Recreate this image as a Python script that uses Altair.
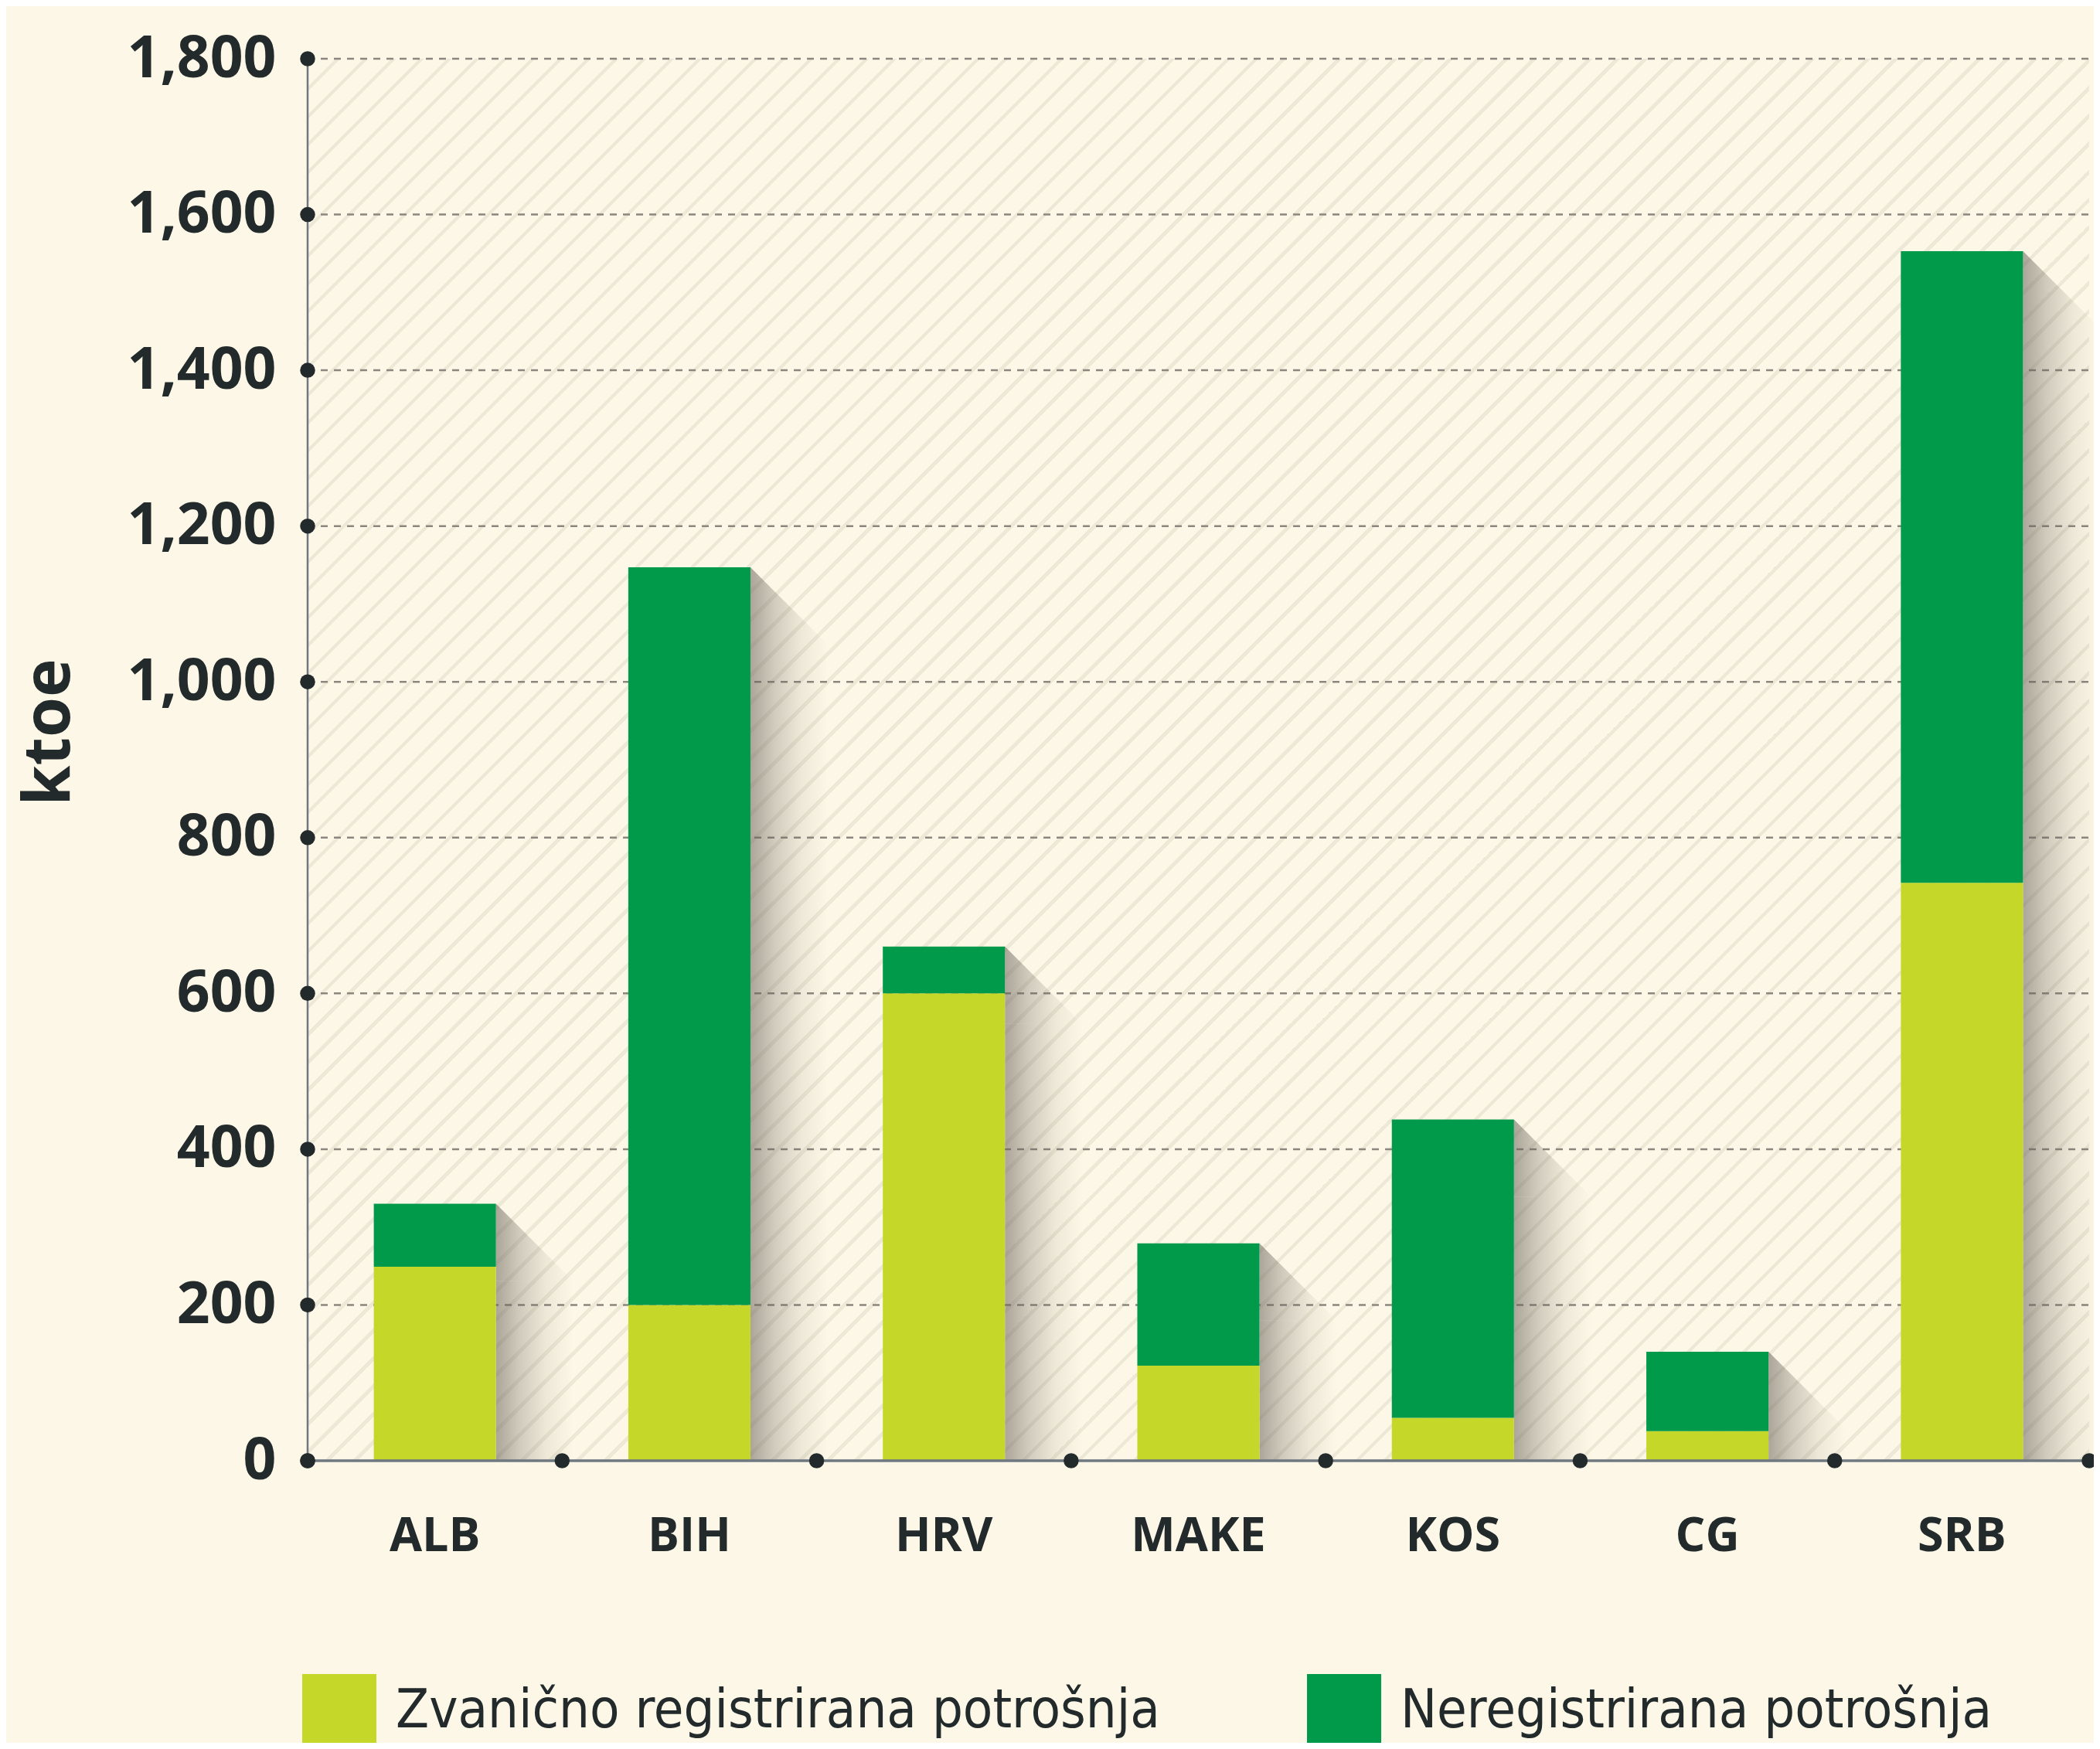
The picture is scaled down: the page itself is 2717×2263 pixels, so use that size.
import altair as alt
import pandas as pd

# ---------------- data ----------------
countries = ["ALB", "BIH", "HRV", "MAKE", "KOS", "CG", "SRB"]
registered = [249, 200, 600, 122, 55, 38, 742]
unregistered = [81, 947, 60, 157, 383, 102, 811]
series_names = ["Zvanično registrirana potrošnja", "Neregistrirana potrošnja"]
series_colors = ["#c5d82a", "#009a4a"]
y_ticks = [0, 200, 400, 600, 800, 1000, 1200, 1400, 1600, 1800]
y_title = "ktoe"

# ---------------- style ----------------
W, H = 2305, 1814
BG = "#fdf7e7"
HATCH = "#eee8d6"
INK = "#232a2b"
AXIS_GRAY = "#6f7880"
GRID_GRAY = "#8a877f"
FONT = "Open Sans"
LEGEND_FONT = "Liberation Sans Narrow, DejaVu Sans Condensed, Open Sans"

rows = []
for i, c in enumerate(countries):
    rows.append({"country": c, "series": series_names[0], "value": registered[i], "ord": 0})
    rows.append({"country": c, "series": series_names[1], "value": unregistered[i], "ord": 1})
bars_df = pd.DataFrame(rows)
tot_df = pd.DataFrame({
    "country": countries,
    "total": [r + u for r, u in zip(registered, unregistered)],
    "zero": [0] * len(countries),
})

# diagonal hatch as a striped linear gradient (objectBoundingBox units)
r = H / W
s = (1 + r) / (1 + r * r)
spacing = 36.0
dt = spacing / (W + H)
lw = 0.17 * dt
stops = []
k = 0
while k * dt < 1:
    a = k * dt
    b = (k + 1) * dt
    for off, col in [(a, HATCH), (a + lw, HATCH), (a + lw, BG), (b, BG)]:
        stops.append({"offset": round(min(off, 1.0), 6), "color": col})
    k += 1
hatch_fill = {"gradient": "linear", "x1": 0, "y1": 0, "x2": s, "y2": s * r, "stops": stops}

SHC = "105,99,90"
shadow_grad = {"gradient": "linear", "x1": 0, "y1": 0, "x2": 1, "y2": 0, "stops": [
    {"offset": 0, "color": f"rgba({SHC},0.55)"},
    {"offset": 0.3, "color": f"rgba({SHC},0.3)"},
    {"offset": 0.65, "color": f"rgba({SHC},0.1)"},
    {"offset": 1, "color": f"rgba({SHC},0)"},
]}

step = W / len(countries)
half_bar = 0.48 * step / 2
gap_half = 0.26 * step
SH = 100

x_axis = alt.Axis(
    title=None, domain=False, ticks=False, tickSize=0, grid=False, labelAngle=0,
    labelFont=FONT, labelFontWeight="bold", labelFontSize=61, labelColor=INK,
    labelPadding=68, labelLimit=600,
)
y_axis = alt.Axis(
    values=y_ticks, format=",d", domain=False, ticks=False, tickSize=0, grid=False,
    labelFont=FONT, labelFontWeight="bold", labelFontSize=75, labelColor=INK,
    labelPadding=41, labelFlush=False, labelOverlap=False, labelLimit=600,
    title=y_title, titleFont=FONT, titleFontWeight="bold", titleFontSize=84,
    titleColor=INK, titleAngle=270, titleX=-334, titleY=871,
    titleAlign="center", titleBaseline="middle", titleLimit=800,
)
x_scale = alt.Scale(paddingInner=0.52, paddingOuter=0.26)
y_scale = alt.Scale(domain=[0, 1800], nice=False)


def X(**kw):
    return alt.X("country:N", sort=countries, scale=x_scale, axis=x_axis, **kw)


def Y(field):
    return alt.Y(field, scale=y_scale, axis=y_axis, title=y_title)


hatch = alt.Chart(alt.Data(values=[{"a": 1}])).mark_rect(fill=hatch_fill, strokeWidth=0).encode(
    x=alt.value(0), x2=alt.value("width"), y=alt.value(0), y2=alt.value("height")
)

grid = alt.Chart(pd.DataFrame({"v": y_ticks[1:]})).mark_rule(
    color=GRID_GRAY, strokeWidth=2.5, strokeDash=[9, 8]
).encode(y=Y("v:Q"), x=alt.value(0), x2=alt.value("width"))

shadow_rect = alt.Chart(tot_df).mark_bar(
    width=SH, xOffset=half_bar + SH / 2, yOffset=SH, fill=shadow_grad, strokeWidth=0
).encode(x=X(), y=Y("total:Q"), y2="zero:Q")

shadow_tri = alt.Chart(tot_df).mark_point(
    shape="M -1 -1 L 1 1 L -1 1 Z", size=SH * SH, filled=True, fill=shadow_grad,
    strokeWidth=0, opacity=1, xOffset=half_bar + SH / 2, yOffset=SH / 2
).encode(x=X(), y=Y("total:Q"))

bars = alt.Chart(bars_df).mark_bar(strokeWidth=0).encode(
    x=X(),
    y=alt.Y("value:Q", stack="zero", scale=y_scale, axis=y_axis, title=y_title),
    color=alt.Color(
        "series:N",
        scale=alt.Scale(domain=series_names, range=series_colors),
        legend=alt.Legend(
            title=None, orient="none", legendX=-7, legendY=2090, direction="horizontal",
            symbolType="square", symbolSize=9216, symbolStrokeWidth=0, symbolOpacity=1,
            labelFont=LEGEND_FONT, labelFontSize=70, labelFontWeight=300, labelColor=INK,
            labelOffset=25, columnPadding=190, labelLimit=3000, padding=0,
        ),
    ),
    order=alt.Order("ord:Q"),
)

xline = alt.Chart(pd.DataFrame({"v": [0]})).mark_rule(color=AXIS_GRAY, strokeWidth=3.5).encode(
    y=Y("v:Q"), x=alt.value(0), x2=alt.value("width")
)
yline = alt.Chart(pd.DataFrame({"v": [1800], "v0": [0]})).mark_rule(color=AXIS_GRAY, strokeWidth=2.5).encode(
    x=alt.value(0), y=Y("v:Q"), y2="v0:Q"
)

ydots = alt.Chart(pd.DataFrame({"v": y_ticks})).mark_circle(size=380, color=INK, opacity=1).encode(
    x=alt.value(0), y=Y("v:Q")
)
xdots = alt.Chart(tot_df).mark_circle(size=380, color=INK, opacity=1, xOffset=-gap_half).encode(
    x=X(bandPosition=0), y=Y("zero:Q")
)
xend = alt.Chart(tot_df[tot_df["country"] == countries[-1]]).mark_circle(
    size=380, color=INK, opacity=1, xOffset=gap_half
).encode(x=X(bandPosition=1), y=Y("zero:Q"))

chart = alt.layer(
    hatch, grid, shadow_rect, shadow_tri, bars, xline, yline, ydots, xdots, xend
).properties(
    width=W, height=H,
    autosize=alt.AutoSizeParams(type="none"),
    padding={"left": 390, "top": 68, "right": 6, "bottom": 365},
).configure(background=BG).configure_view(stroke=None)

chart.save("out.html", embed_options={"renderer": "svg", "actions": False})
